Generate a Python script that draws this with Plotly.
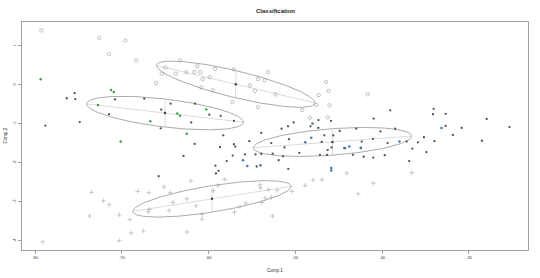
import numpy as np
import plotly.graph_objects as go

# ---- data (Comp.1, Comp.2) ----
circle_x = [-79.27, -72.59, -69.60, -71.48, -68.33, -66.04, -64.97, -65.40, -63.27, -61.30,
            -63.79, -62.57, -61.65, -60.96, -59.26, -57.10, -60.70, -59.87, -60.85, -59.52,
            -57.28, -55.23, -54.31, -53.56, -54.66, -53.16, -54.33, -52.29, -46.48, -46.19,
            -47.32, -47.57, -46.07, -49.22, -41.66, -48.32, -46.27]
circle_y = [1.40, 1.21, 1.14, 0.79, 0.63, 0.05, 0.45, 0.29, 0.63, 0.48,
            0.29, 0.33, 0.33, 0.33, 0.41, 0.40, 0.15, 0.20, -0.06, -0.14,
            -0.44, -0.01, 0.15, 0.12, -0.15, 0.33, -0.57, -0.24, 0.08, -0.15,
            -0.26, -0.51, -0.52, -0.64, -0.24, -0.84, -0.83]

plus_x = [-79.11, -73.49, -73.72, -72.13, -71.44, -70.29, -70.30, -69.08, -68.91, -67.52,
          -68.17, -66.90, -65.14, -64.43, -66.84, -66.95, -64.54, -64.10, -62.05, -62.51,
          -61.45, -60.76, -60.76, -62.49, -59.44, -58.92, -58.14, -56.38, -55.72, -57.02,
          -54.08, -54.03, -53.08, -52.09, -53.50, -52.76, -53.85, -50.39, -52.64, -48.90,
          -47.97, -46.94, -44.09, -42.76, -41.03, -36.59]
plus_y = [-4.02, -2.75, -3.36, -2.97, -3.07, -3.33, -3.99, -3.45, -3.79, -3.74,
          -2.73, -2.76, -2.61, -2.76, -3.19, -3.25, -3.22, -3.01, -2.46, -2.92,
          -3.10, -3.32, -3.44, -3.77, -2.71, -2.58, -2.42, -3.12, -3.03, -3.26,
          -2.56, -2.64, -2.68, -2.70, -2.90, -2.88, -3.01, -2.73, -3.36, -2.58,
          -2.44, -2.43, -2.26, -2.79, -2.52, -2.25]

dark_x = [-76.35, -75.43, -75.36, -70.78, -67.41, -71.48, -78.81, -74.85, -65.45, -64.37,
          -65.52, -61.57, -59.92, -58.61, -62.00, -57.08, -58.31, -61.60, -62.89, -58.69,
          -57.08, -56.93, -55.31, -53.93, -57.22, -55.81, -57.92, -59.21, -58.86, -59.15,
          -54.46, -54.60, -53.93, -52.78, -51.93, -50.82, -51.60, -50.85, -50.20, -52.62,
          -51.43, -50.74, -51.26, -49.55, -65.75, -47.34, -45.90, -48.26, -47.36, -46.67,
          -45.64, -44.90, -42.99, -46.97, -42.36, -45.82, -44.37, -42.44, -46.28, -46.36,
          -47.17, -43.37, -42.13, -41.03, -39.71, -40.20, -38.50, -41.06, -39.37, -37.18,
          -40.98, -39.07, -34.07, -34.15, -32.68, -27.96, -32.69, -30.84, -25.34, -31.85,
          -28.51, -33.98, -35.19, -35.88, -36.53, -34.90, -36.89]
dark_y = [-0.34, -0.21, -0.36, -0.37, -0.35, -0.75, -1.04, -0.95, -0.63, -0.48,
          -1.11, -0.48, -0.76, -0.79, -0.96, -0.92, -1.29, -1.51, -1.82, -1.59,
          -1.52, -1.58, -1.44, -1.23, -1.81, -1.78, -1.95, -2.07, -2.20, -2.27,
          -2.09, -1.78, -1.77, -1.49, -1.93, -2.15, -1.12, -1.06, -0.96, -1.76,
          -1.83, -1.39, -1.60, -1.74, -2.34, -0.90, -0.92, -1.06, -1.10, -1.29,
          -1.29, -1.18, -1.12, -1.46, -1.45, -1.60, -1.61, -1.62, -1.67, -1.79,
          -1.79, -1.79, -1.84, -1.86, -1.80, -1.19, -1.12, -1.38, -1.49, -1.45,
          -0.86, -0.65, -0.61, -0.75, -0.74, -0.87, -1.05, -1.10, -1.08, -1.28,
          -1.43, -1.44, -1.34, -1.47, -1.63, -1.72, -1.95]

green_x = [-79.34, -71.24, -70.93, -72.74, -66.72, -70.13, -63.61, -63.30, -60.27, -62.52]
green_y = [0.15, -0.13, -0.18, -0.51, -0.93, -1.45, -0.73, -0.79, -0.63, -1.25]

blue_x = [-48.03, -48.86, -48.17, -56.04, -55.54, -54.02, -33.17, -38.01, -42.48, -43.79,
          -44.29, -45.87, -45.87]
blue_y = [-0.99, -1.47, -1.35, -1.93, -2.08, -2.06, -1.10, -1.45, -1.61, -1.58,
          -1.62, -2.13, -2.19]

# ellipses: centre, half major-axis vector, half minor length
ell_cx = [-56.87, -65.02, -45.73, -59.61]
ell_cy = [0.02, -0.72, -1.46, -2.92]
ell_ax = [9.13, 9.03, 9.12, 9.12]
ell_ay = [-0.48, -0.235, 0.15, 0.32]
ell_b = [0.35, 0.36, 0.34, 0.34]

x_ticks = [-80, -70, -60, -50, -40, -30]
y_ticks = [-4, -3, -2, -1, 0, 1]

FONT = "Liberation Sans, Arial, sans-serif"
fig = go.Figure()

# ellipses + axes
t = np.linspace(0, 2 * np.pi, 200)
for cx, cy, ax, ay, b in zip(ell_cx, ell_cy, ell_ax, ell_ay, ell_b):
    n = np.hypot(ax, ay)
    vx, vy = -ay / n * b, ax / n * b
    ex = cx + ax * np.cos(t) + vx * np.sin(t)
    ey = cy + ay * np.cos(t) + vy * np.sin(t)
    fig.add_trace(go.Scatter(x=ex, y=ey, mode="lines",
                             line=dict(color="#a0a0a0", width=0.9), hoverinfo="skip"))
    fig.add_trace(go.Scatter(x=[cx - ax, cx + ax], y=[cy - ay, cy + ay], mode="lines",
                             line=dict(color="#cccccc", width=0.7), hoverinfo="skip"))
    fig.add_trace(go.Scatter(x=[cx - vx, cx + vx], y=[cy - vy, cy + vy], mode="lines",
                             line=dict(color="#cccccc", width=0.7), hoverinfo="skip"))

fig.add_trace(go.Scatter(x=circle_x, y=circle_y, mode="markers",
                         marker=dict(symbol="circle-open", size=3.4, color="#999999",
                                     line=dict(width=0.6))))
fig.add_trace(go.Scatter(x=plus_x, y=plus_y, mode="markers",
                         marker=dict(symbol="cross-thin-open", size=3.4, color="#aaaaaa",
                                     line=dict(width=0.6, color="#aaaaaa"))))
fig.add_trace(go.Scatter(x=dark_x, y=dark_y, mode="markers",
                         marker=dict(symbol="circle", size=2.3, color="#505050")))
fig.add_trace(go.Scatter(x=green_x, y=green_y, mode="markers",
                         marker=dict(symbol="circle", size=2.5, color="#3aa04a")))
fig.add_trace(go.Scatter(x=blue_x, y=blue_y, mode="markers",
                         marker=dict(symbol="circle", size=2.5, color="#3a78b0")))
fig.add_trace(go.Scatter(x=ell_cx, y=ell_cy, mode="markers",
                         marker=dict(symbol="circle", size=2.5, color="#444444")))

fig.update_layout(
    width=540, height=278,
    margin=dict(l=22, r=12, t=22, b=28),
    paper_bgcolor="white", plot_bgcolor="white",
    showlegend=False,
    font=dict(family=FONT, size=4, color="#333333"),
    annotations=[
        dict(text="<b>Classification</b>", x=0.5, y=1, xref="paper", yref="paper",
             xanchor="center", yanchor="middle", yshift=22 - 11, showarrow=False,
             font=dict(size=6, color="#222222", family=FONT)),
        dict(text="Comp.1", x=0.5, y=0, xref="paper", yref="paper",
             xanchor="center", yanchor="middle", yshift=-20, showarrow=False,
             font=dict(size=4.5, color="#333333", family=FONT)),
        dict(text="Comp.2", x=0, y=0.5, xref="paper", yref="paper",
             xanchor="center", yanchor="middle", xshift=-17.5, textangle=-90,
             showarrow=False, font=dict(size=4.5, color="#333333", family=FONT)),
    ],
)
fig.update_xaxes(range=[-81.5, -23.2], tickvals=x_ticks, ticktext=[str(v) for v in x_ticks],
                 showgrid=False, zeroline=False, showline=True, mirror=True,
                 linecolor="#a0a0a0", linewidth=1, ticks="outside", ticklen=3,
                 tickcolor="#a0a0a0", tickfont=dict(size=4, family=FONT, color="#333333"))
fig.update_yaxes(range=[-4.231, 1.615], tickvals=y_ticks, ticktext=[str(v) for v in y_ticks],
                 showgrid=False, zeroline=False, showline=True, mirror=True,
                 linecolor="#a0a0a0", linewidth=1, ticks="outside", ticklen=3,
                 tickcolor="#a0a0a0", tickangle=-90,
                 tickfont=dict(size=4, family=FONT, color="#333333"))

fig.write_html("out.html")
